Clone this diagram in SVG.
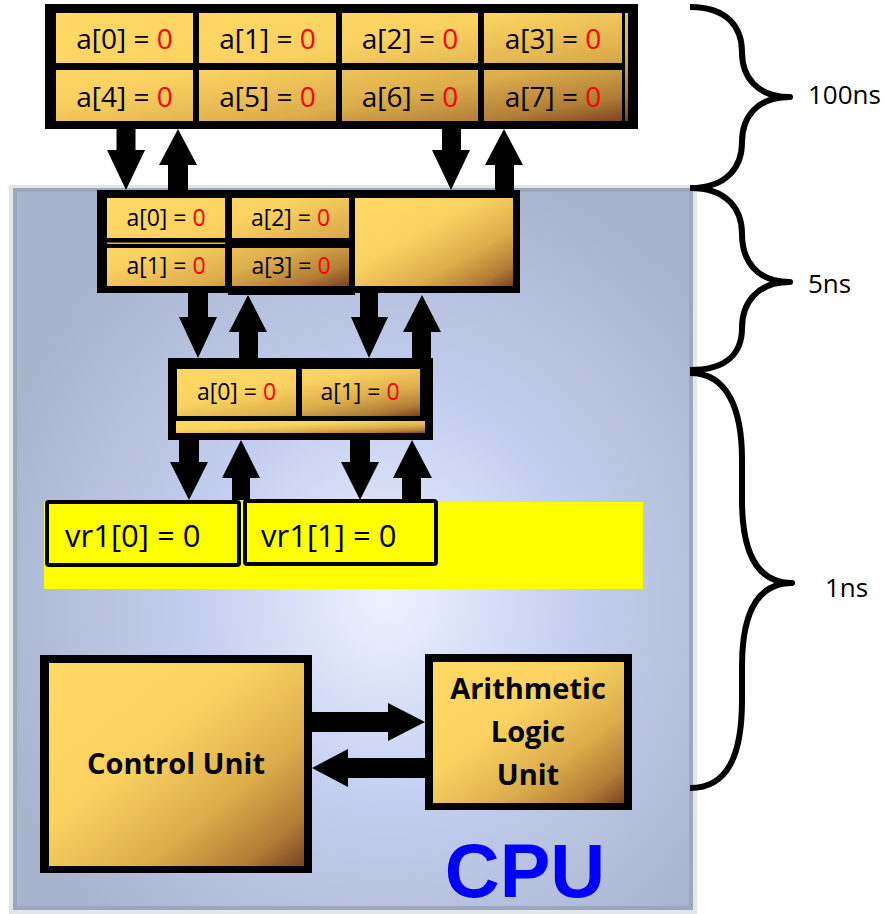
<svg xmlns="http://www.w3.org/2000/svg" width="886" height="914" viewBox="0 0 886 914">
<style>
.cell{font-family:"Open Sans","Noto Sans","Liberation Sans",sans-serif;fill:#000;text-anchor:middle}
.r{fill:#ff0000}
.blk{fill:#000}
.gold{fill:url(#gold)}
.lbl{font-family:"Open Sans","Noto Sans","Liberation Sans",sans-serif;font-size:26px;fill:#000}
.bold{font-family:"Open Sans","Noto Sans","Liberation Sans",sans-serif;font-weight:bold;font-size:29px;fill:#000;text-anchor:middle}
.brace{fill:none;stroke:#000;stroke-width:6;stroke-linejoin:round}
.arrow{fill:#000}
</style>
<defs>
<linearGradient id="gold" x1="0" y1="0" x2="1" y2="1">
<stop offset="0" stop-color="#ffd966"/>
<stop offset="0.4" stop-color="#fbd261"/>
<stop offset="0.68" stop-color="#dcae4c"/>
<stop offset="0.88" stop-color="#b07c36"/>
<stop offset="1" stop-color="#784220"/>
</linearGradient>
<radialGradient id="cpubg" cx="0.55" cy="0.57" r="0.62">
<stop offset="0" stop-color="#eef2fe"/>
<stop offset="0.45" stop-color="#c4cef0"/>
<stop offset="1" stop-color="#a8b4cc"/>
</radialGradient>
</defs>
<rect width="886" height="914" fill="#ffffff"/>

<g id="cpu">
<rect x="9" y="185" width="688" height="732" fill="#e4e5e8"/>
<rect x="15" y="190" width="676" height="718" fill="url(#cpubg)" stroke="#9ba7bb" stroke-width="4"/>
<text x="525" y="897" font-family="Liberation Sans, Arial, sans-serif" font-weight="bold" font-size="76" fill="#0000ff" text-anchor="middle">CPU</text>
</g>

<g id="memory">
<rect class="blk" x="45" y="4" width="593" height="125"/>
<rect class="gold" x="56" y="13" width="572" height="108"/>
<rect class="blk" x="193" y="13" width="6" height="108"/>
<rect class="blk" x="336" y="13" width="6" height="108"/>
<rect class="blk" x="478" y="13" width="6" height="108"/>
<rect class="blk" x="622" y="13" width="3" height="108"/>
<rect class="blk" x="56" y="63" width="569" height="7"/>
<text class="cell" font-size="28" x="124.5" y="49">a[0] = <tspan class="r">0</tspan></text>
<text class="cell" font-size="28" x="267.5" y="49">a[1] = <tspan class="r">0</tspan></text>
<text class="cell" font-size="28" x="410" y="49">a[2] = <tspan class="r">0</tspan></text>
<text class="cell" font-size="28" x="553" y="49">a[3] = <tspan class="r">0</tspan></text>
<text class="cell" font-size="28" x="124.5" y="107">a[4] = <tspan class="r">0</tspan></text>
<text class="cell" font-size="28" x="267.5" y="107">a[5] = <tspan class="r">0</tspan></text>
<text class="cell" font-size="28" x="410" y="107">a[6] = <tspan class="r">0</tspan></text>
<text class="cell" font-size="28" x="553" y="107">a[7] = <tspan class="r">0</tspan></text>
</g>

<g id="cache-l2">
<rect class="blk" x="97" y="190" width="423" height="103"/>
<rect class="gold" x="355" y="198" width="158" height="88"/>
<rect class="gold" x="107" y="198" width="243" height="88"/>
<rect class="blk" x="225" y="198" width="7" height="88"/>
<rect class="blk" x="349" y="190" width="6" height="103"/>
<rect class="blk" x="107" y="238" width="243" height="10"/>
<rect x="107" y="242.5" width="118" height="1.5" fill="#e2b24c"/>
<rect class="blk" x="228" y="286" width="127" height="9"/>
<text class="cell" font-size="23" x="166" y="226">a[0] = <tspan class="r">0</tspan></text>
<text class="cell" font-size="23" x="290.5" y="226">a[2] = <tspan class="r">0</tspan></text>
<text class="cell" font-size="23" x="166" y="274">a[1] = <tspan class="r">0</tspan></text>
<text class="cell" font-size="23" x="291" y="274">a[3] = <tspan class="r">0</tspan></text>
</g>

<g id="cache-l1">
<rect class="blk" x="168" y="358" width="265" height="82"/>
<rect class="gold" x="176" y="421" width="249" height="12"/>
<rect class="gold" x="177" y="369" width="243" height="47"/>
<rect class="blk" x="296" y="369" width="6" height="47"/>
<text class="cell" font-size="23" x="236.5" y="400">a[0] = <tspan class="r">0</tspan></text>
<text class="cell" font-size="23" x="360" y="400">a[1] = <tspan class="r">0</tspan></text>
</g>

<g id="registers">
<rect x="44" y="502" width="599" height="87" fill="#ffff00"/>
<rect x="47" y="502" width="192" height="63" rx="2" fill="#ffff00" stroke="#000" stroke-width="4"/>
<rect x="245" y="501" width="191" height="63" rx="2" fill="#ffff00" stroke="#000" stroke-width="4"/>
<text x="65" y="547" font-family="Open Sans, Noto Sans, Liberation Sans, sans-serif" font-size="31" fill="#000">vr1[0] = 0</text>
<text x="261" y="547" font-family="Open Sans, Noto Sans, Liberation Sans, sans-serif" font-size="31" fill="#000">vr1[1] = 0</text>
</g>

<g id="control-unit">
<rect class="blk" x="40" y="655" width="272" height="218"/>
<rect class="gold" x="49" y="663" width="255" height="203"/>
<text class="bold" x="176" y="774">Control Unit</text>
</g>

<g id="alu">
<rect class="blk" x="425" y="654" width="207" height="156"/>
<rect class="gold" x="433" y="662" width="191" height="141"/>
<text class="bold" x="528" y="699">Arithmetic</text>
<text class="bold" x="528" y="742">Logic</text>
<text class="bold" x="528" y="785">Unit</text>
</g>

<g id="connectors">
<polygon class="arrow" points="116.5,129 135.5,129 135.5,150 145,150 126,190 107,150 116.5,150"/>
<polygon class="arrow" points="178,129 197,165 188,165 188,190 168,190 168,165 159,165"/>
<polygon class="arrow" points="442,129 461,129 461,150 470,150 451,190 432,150 442,150"/>
<polygon class="arrow" points="504,129 523,165 514,165 514,190 495,190 495,165 485,165"/>

<polygon class="arrow" points="188,293 208,293 208,317 217,317 198,358 179,317 188,317"/>
<polygon class="arrow" points="248,295 267,332 258,332 258,359 239,359 239,332 229,332"/>
<polygon class="arrow" points="360,293 378,293 378,317 388,317 369,358 351,317 360,317"/>
<polygon class="arrow" points="422,295 441,332 431,332 431,359 412,359 412,332 403,332"/>

<polygon class="arrow" points="179,440 199,440 199,462 208,462 189,500 170,462 179,462"/>
<polygon class="arrow" points="241,440 260,478 250,478 250,500 232,500 232,478 222,478"/>
<polygon class="arrow" points="350,440 370,440 370,462 379,462 360,500 341,462 350,462"/>
<polygon class="arrow" points="412,440 432,478 421,478 421,500 402,500 402,478 393,478"/>

<polygon class="arrow" points="312,712 388,712 388,703 425,722 388,741 388,732 312,732"/>
<polygon class="arrow" points="312,768 348,749 348,758 425,758 425,778 348,778 348,787"/>
</g>

<g id="braces">
<path class="brace" d="M690,7 C728,7 742,28 742,52 C742,76 756,97 790,97 C756,97 742,118 742,142 C742,166 728,188 690,188"/>
<path class="brace" d="M690,188 C728,188 742,210 742,234 C742,260 756,282 790,282 C756,282 742,304 742,328 C742,352 728,370 690,370"/>
<path class="brace" d="M690,373 C728,373 742,410 742,460 L742,500 C742,550 756,583 792,583 C756,583 742,616 742,666 L742,700 C742,755 728,788 690,788"/>
<text class="lbl" x="808" y="104">100ns</text>
<text class="lbl" x="808" y="293">5ns</text>
<text class="lbl" x="825" y="597">1ns</text>
</g>
</svg>
